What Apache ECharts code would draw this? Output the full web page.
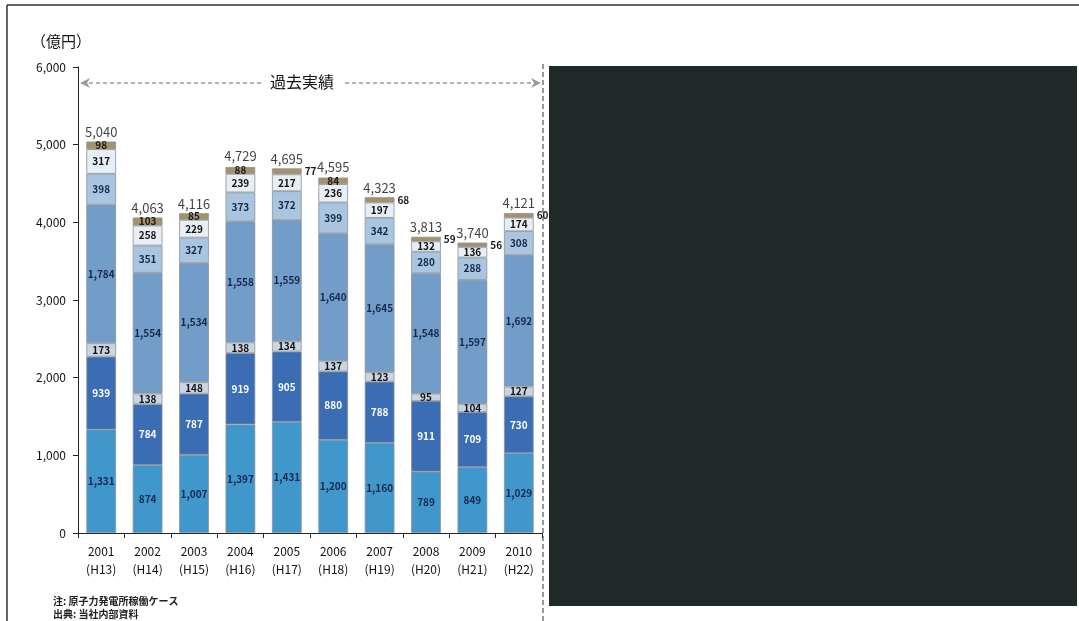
<!DOCTYPE html>
<html>
<head>
<meta charset="utf-8">
<script src="https://cdn.jsdelivr.net/npm/echarts@6/dist/echarts.min.js"></script>
<style>
  html, body { margin: 0; padding: 0; background: #fff; }
  #chart { width: 1079px; height: 621px; }
</style>
</head>
<body>
<div id="chart"></div>
<script>
// 年度（西暦／平成）
const years = ['2001', '2002', '2003', '2004', '2005', '2006', '2007', '2008', '2009', '2010'];
const eraYears = ['(H13)', '(H14)', '(H15)', '(H16)', '(H17)', '(H18)', '(H19)', '(H20)', '(H21)', '(H22)'];

// 内訳（下から順に積み上げ、単位：億円）
const seg1 = [1331, 874, 1007, 1397, 1431, 1200, 1160, 789, 849, 1029];
const seg2 = [939, 784, 787, 919, 905, 880, 788, 911, 709, 730];
const seg3 = [173, 138, 148, 138, 134, 137, 123, 95, 104, 127];
const seg4 = [1784, 1554, 1534, 1558, 1559, 1640, 1645, 1548, 1597, 1692];
const seg5 = [398, 351, 327, 373, 372, 399, 342, 280, 288, 308];
const seg6 = [317, 258, 229, 239, 217, 236, 197, 132, 136, 174];
const seg7 = [98, 103, 85, 88, 77, 84, 68, 59, 56, 60];

// 合計
const totals = [5040, 4063, 4116, 4729, 4695, 4595, 4323, 3813, 3740, 4121];

// 最上段の値を棒の右側に出す年度
const topLabelOutside = [false, false, false, false, true, false, true, true, true, true];

const yTicks = [0, 1000, 2000, 3000, 4000, 5000, 6000];

const FONT = '"Noto Sans CJK JP", "Noto Sans", sans-serif';
const fmt = v => Number(v).toLocaleString('en-US');

const segStyle = [
  { color: '#3f97cc', label: '#14284a' },
  { color: '#3b6db4', label: '#ffffff' },
  { color: '#c9d5e1', label: '#111111' },
  { color: '#729dc8', label: '#14284a' },
  { color: '#aac5df', label: '#14284a' },
  { color: '#e8eef5', label: '#111111' },
  { color: '#a59266', label: '#1a1a1a' }
];
const segData = [seg1, seg2, seg3, seg4, seg5, seg6, seg7];

const barSeries = segData.map((arr, si) => ({
  type: 'bar',
  stack: 'total',
  barWidth: '64%',
  itemStyle: {
    color: segStyle[si].color,
    borderColor: '#8c9299',
    borderWidth: 0.8
  },
  label: {
    show: true,
    position: 'inside',
    fontFamily: FONT,
    fontSize: 10,
    fontWeight: 'bold',
    color: segStyle[si].label,
    formatter: p => fmt(p.value)
  },
  data: arr.map((v, i) => {
    if (si === 6 && topLabelOutside[i]) {
      return { value: v, label: { position: 'right', distance: 3, color: '#1a1a1a' } };
    }
    return v;
  })
}));

// 合計値ラベル
const totalSeries = {
  type: 'scatter',
  symbolSize: 0,
  silent: true,
  data: totals,
  label: {
    show: true,
    position: 'top',
    distance: 3,
    fontFamily: FONT,
    fontSize: 13,
    color: '#111',
    formatter: p => fmt(p.value)
  },
  z: 5
};

const chart = echarts.init(document.getElementById('chart'));

const dashGray = '#9a9a9a';
chart.setOption({
  animation: false,
  backgroundColor: '#ffffff',
  grid: { left: 78, right: 537, top: 67, bottom: 88 },
  xAxis: {
    type: 'category',
    data: years.map((y, i) => y + '\n' + eraYears[i]),
    axisLine: { lineStyle: { color: '#222', width: 1 } },
    axisTick: { show: true, length: 5, lineStyle: { color: '#222' } },
    axisLabel: {
      fontFamily: FONT,
      fontSize: 12,
      lineHeight: 18,
      color: '#111',
      margin: 9
    }
  },
  yAxis: {
    type: 'value',
    min: yTicks[0],
    max: yTicks[yTicks.length - 1],
    interval: 1000,
    splitLine: { show: false },
    axisLine: { show: true, lineStyle: { color: '#222', width: 1 } },
    axisTick: { show: true, length: 5, lineStyle: { color: '#222' } },
    axisLabel: {
      fontFamily: FONT,
      fontSize: 12,
      color: '#111',
      margin: 12,
      formatter: v => fmt(v)
    }
  },
  series: [...barSeries, totalSeries],
  graphic: [
    // 枠線
    { type: 'line', shape: { x1: 7, y1: 5, x2: 1079, y2: 5 }, style: { stroke: '#333', lineWidth: 1.5 } },
    { type: 'line', shape: { x1: 7, y1: 5, x2: 7, y2: 621 }, style: { stroke: '#333', lineWidth: 1.5 } },
    // 単位
    { type: 'text', left: 31, top: 34, style: { text: '（億円）', font: '15px ' + FONT, fill: '#111' } },
    // 過去実績の矢印
    { type: 'line', shape: { x1: 82, y1: 83, x2: 262, y2: 83 }, style: { stroke: dashGray, lineWidth: 1.5, lineDash: [4, 3] } },
    { type: 'polygon', shape: { points: [[80, 83], [90, 78], [87, 83], [90, 88]] }, style: { fill: dashGray } },
    { type: 'text', left: 270, top: 74, style: { text: '過去実績', font: '16px ' + FONT, fill: '#111' } },
    { type: 'line', shape: { x1: 345, y1: 83, x2: 537, y2: 83 }, style: { stroke: dashGray, lineWidth: 1.5, lineDash: [4, 3] } },
    { type: 'polygon', shape: { points: [[541, 83], [531, 78], [534, 83], [531, 88]] }, style: { fill: dashGray } },
    // 区切り線
    { type: 'line', shape: { x1: 543, y1: 64, x2: 543, y2: 621 }, style: { stroke: '#333', lineWidth: 1, lineDash: [5, 3] } },
    // 非表示領域
    { type: 'rect', shape: { x: 549, y: 66, width: 528, height: 540 }, style: { fill: '#1f2928' } },
    // 注記
    { type: 'text', left: 53, top: 596, style: { text: '注: 原子力発電所稼働ケース', font: 'bold 10px ' + FONT, fill: '#222' } },
    { type: 'text', left: 53, top: 609, style: { text: '出典: 当社内部資料', font: 'bold 10px ' + FONT, fill: '#222' } }
  ]
});
</script>
</body>
</html>
